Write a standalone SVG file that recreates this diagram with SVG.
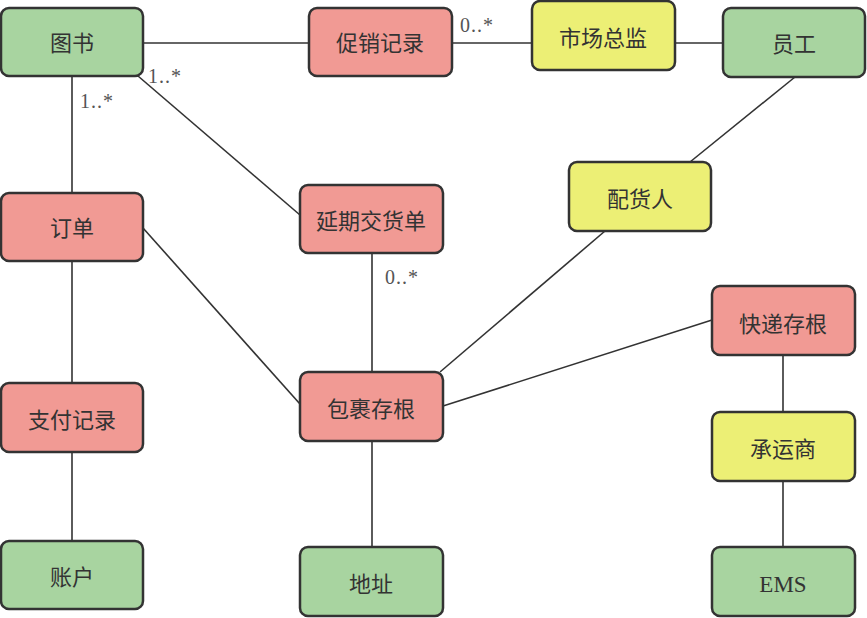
<svg xmlns="http://www.w3.org/2000/svg" width="867" height="618" viewBox="0 0 867 618">
<style>
.n rect{stroke:#333;stroke-width:2.5}
.g rect{fill:#a8d4a0}
.r rect{fill:#f19a94}
.y rect{fill:#ecef75}
.n text{font-family:"Liberation Serif","Noto Sans CJK SC",serif;font-size:22px;fill:#333;text-anchor:middle;dominant-baseline:central}
#edges line{stroke:#333;stroke-width:1.6}
.lbl{font-family:"Liberation Serif",serif;font-size:20px;fill:#555;letter-spacing:1px}
</style>
<rect width="867" height="618" fill="#fff"/>
<g id="edges">
<line x1="143" y1="43" x2="309" y2="43"/>
<line x1="452" y1="43" x2="532" y2="43"/>
<line x1="675" y1="43" x2="723" y2="43"/>
<line x1="795" y1="77" x2="690" y2="162"/>
<line x1="72" y1="76" x2="72" y2="193"/>
<line x1="138" y1="76" x2="300" y2="215"/>
<line x1="72" y1="261" x2="72" y2="383"/>
<line x1="72" y1="452" x2="72" y2="541"/>
<line x1="143" y1="228" x2="300" y2="404"/>
<line x1="372" y1="253" x2="372" y2="372"/>
<line x1="605" y1="231" x2="440" y2="372"/>
<line x1="443" y1="406" x2="712" y2="320"/>
<line x1="783" y1="355" x2="783" y2="412"/>
<line x1="783" y1="481" x2="783" y2="547"/>
<line x1="372" y1="441" x2="372" y2="547"/>
<text class="lbl" x="148" y="83">1..*</text>
<text class="lbl" x="80" y="108">1..*</text>
<text class="lbl" x="460" y="32">0..*</text>
<text class="lbl" x="385" y="284">0..*</text>
</g>
<g id="tushu" class="n g"><rect x="1" y="8" width="142" height="68" rx="8"/><text x="72" y="43">图书</text></g>
<g id="cuxiao" class="n r"><rect x="309" y="8" width="143" height="68" rx="8"/><text x="380" y="43">促销记录</text></g>
<g id="shichang" class="n y"><rect x="532" y="1" width="143" height="69" rx="8"/><text x="603" y="38">市场总监</text></g>
<g id="yuangong" class="n g"><rect x="723" y="8" width="142" height="69" rx="8"/><text x="794" y="44">员工</text></g>
<g id="dingdan" class="n r"><rect x="1" y="193" width="142" height="68" rx="8"/><text x="72" y="228">订单</text></g>
<g id="yanqi" class="n r"><rect x="300" y="185" width="143" height="68" rx="8"/><text x="371" y="221">延期交货单</text></g>
<g id="peihuo" class="n y"><rect x="569" y="162" width="142" height="69" rx="8"/><text x="640" y="199">配货人</text></g>
<g id="kuaidi" class="n r"><rect x="712" y="286" width="143" height="69" rx="8"/><text x="783" y="324">快递存根</text></g>
<g id="baoguo" class="n r"><rect x="300" y="372" width="143" height="69" rx="8"/><text x="371" y="409">包裹存根</text></g>
<g id="zhifu" class="n r"><rect x="1" y="383" width="142" height="69" rx="8"/><text x="72" y="420">支付记录</text></g>
<g id="chengyun" class="n y"><rect x="712" y="412" width="143" height="69" rx="8"/><text x="783" y="449">承运商</text></g>
<g id="zhanghu" class="n g"><rect x="1" y="541" width="142" height="68" rx="8"/><text x="72" y="577">账户</text></g>
<g id="dizhi" class="n g"><rect x="300" y="547" width="143" height="69" rx="8"/><text x="371" y="584">地址</text></g>
<g id="ems" class="n g"><rect x="712" y="547" width="143" height="69" rx="8"/><text x="783" y="584" style="font-size:23px">EMS</text></g>
</svg>
